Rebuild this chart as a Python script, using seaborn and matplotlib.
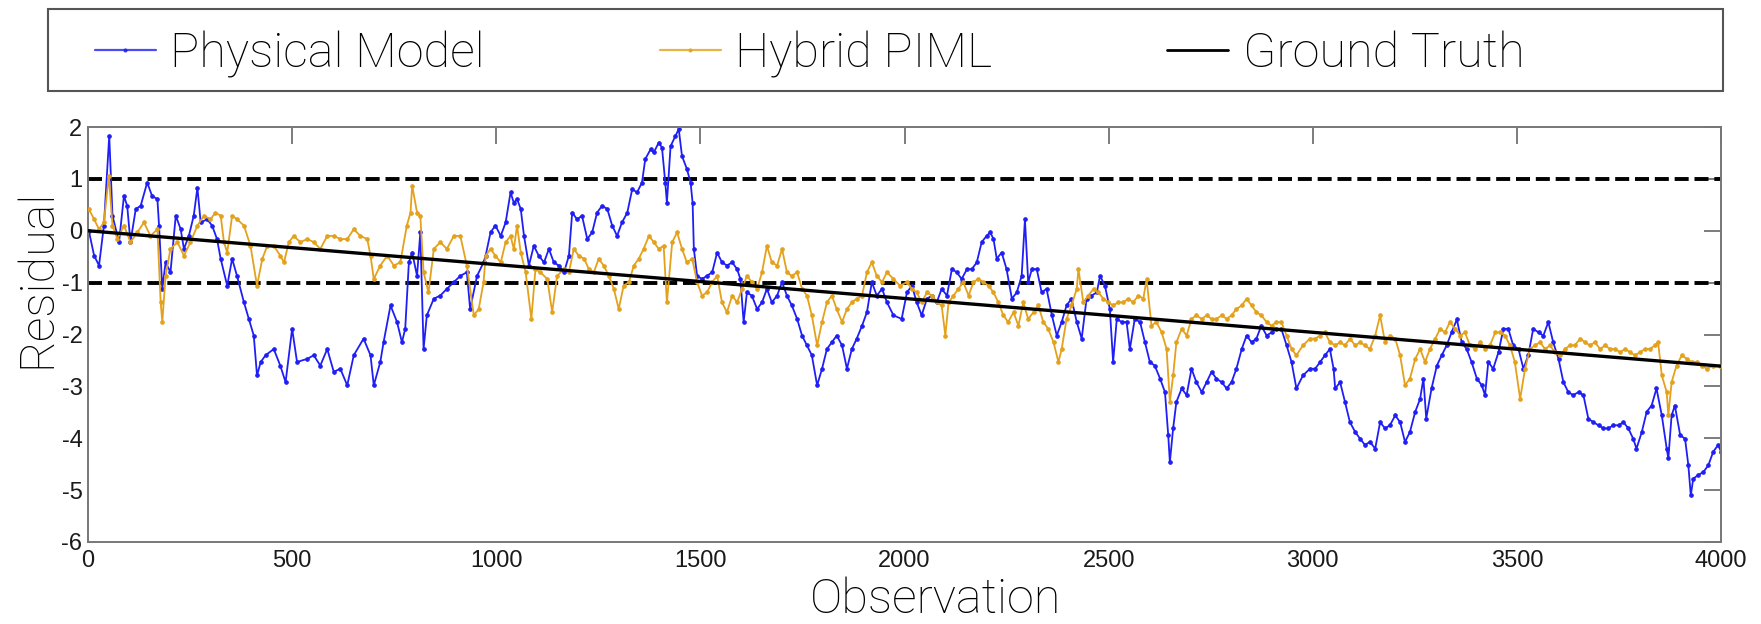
import numpy as np
import pandas as pd
import matplotlib
matplotlib.use("Agg")
import matplotlib.pyplot as plt
import seaborn as sns
from matplotlib.lines import Line2D
from matplotlib.patches import Rectangle

# ---------------- data ----------------
phys_obs = [2, 15, 27, 39, 52, 60, 76, 88, 96, 104, 117, 129, 145, 157, 170, 174, 182, 190, 202, 215,
            227, 235, 247, 259, 268, 276, 292, 304, 316, 325, 341, 353, 365, 382, 394, 406, 414, 423, 435, 455,
            471, 484, 500, 512, 537, 553, 569, 586, 602, 618, 635, 651, 675, 692, 700, 716, 724, 741, 757, 769,
            777, 786, 794, 806, 814, 822, 830, 847, 863, 879, 896, 912, 928, 936, 953, 969,
            974, 986, 998, 1011, 1023, 1035, 1043, 1051, 1060, 1068, 1080, 1092, 1104, 1117, 1129, 1141, 1153, 1166, 1178, 1186,
            1198, 1210, 1223, 1235, 1247, 1259, 1272, 1284, 1296, 1308, 1321, 1333, 1345, 1357, 1365, 1378, 1386, 1398, 1406, 1414,
            1418, 1427, 1439, 1447, 1455, 1467, 1476, 1481, 1484, 1492, 1504, 1516, 1529, 1541, 1553, 1565, 1578, 1590, 1598, 1606,
            1614, 1626, 1639, 1651, 1663, 1675, 1688, 1700, 1712, 1724, 1737, 1749, 1761, 1773, 1786, 1798, 1810, 1822, 1834, 1847,
            1859, 1871, 1883, 1896, 1908, 1920, 1932, 1945, 1957, 1973,
            1993, 2006, 2018, 2030, 2042, 2055, 2067, 2079, 2091, 2104, 2116, 2128, 2140, 2153, 2165, 2177, 2189, 2201, 2210, 2218,
            2226, 2238, 2250, 2263, 2275, 2287, 2295, 2303, 2312, 2324, 2336, 2348, 2361, 2373, 2385, 2397, 2409, 2422, 2434, 2446,
            2458, 2471, 2479, 2491, 2503, 2511, 2520, 2532, 2544, 2552, 2564, 2577, 2589, 2601, 2613, 2626, 2638, 2646, 2650, 2658,
            2666, 2679, 2691, 2703, 2715, 2728, 2740, 2752, 2764, 2777, 2789, 2801, 2813, 2826, 2838, 2850, 2862, 2874, 2887, 2899,
            2911, 2923, 2936, 2948, 2960, 2976, 2993,
            3006, 3018, 3030, 3042, 3051, 3055, 3067, 3079, 3091, 3104, 3116, 3128, 3140, 3153, 3165, 3177, 3189, 3202, 3214, 3226,
            3238, 3251, 3263, 3271, 3278, 3291, 3304, 3316, 3328, 3340, 3353, 3365, 3377, 3389, 3402, 3414, 3422, 3430, 3442, 3455,
            3467, 3479, 3491, 3504, 3516, 3528, 3540, 3553, 3565, 3577, 3589, 3602, 3614, 3626, 3638, 3651, 3663, 3675, 3687, 3700,
            3712, 3724, 3736, 3749, 3761, 3773, 3785, 3793, 3806, 3818, 3830, 3842, 3855, 3867, 3871, 3879, 3887, 3900, 3912, 3920,
            3926, 3932, 3944, 3957, 3969, 3981, 3993, 4000]
phys_val = [0.00, -0.48, -0.67, 0.10, 1.83, 0.29, -0.22, 0.67, 0.48, -0.22, 0.42, 0.48, 0.93, 0.67, 0.61, 0.10, -1.12, -0.61, -0.80, 0.29,
            0.03, -0.35, -0.10, 0.29, 0.83, 0.16, 0.22, 0.10, -0.16, -0.54, -1.06, -0.54, -0.87, -1.38, -1.70, -2.02, -2.79, -2.53, -2.40, -2.28,
            -2.60, -2.92, -1.89, -2.53, -2.47, -2.40, -2.60, -2.28, -2.72, -2.66, -2.98, -2.40, -2.08, -2.40, -2.98, -2.53, -2.15, -1.44, -1.76, -2.15,
            -1.89, -0.61, -0.42, -0.87, -0.03, -2.28, -1.63, -1.31, -1.25, -1.12, -0.99, -0.87, -0.80, -1.51, -0.87, -0.61,
            -0.48, -0.03, 0.10, -0.10, 0.16, 0.74, 0.54, 0.61, 0.42, -0.10, -0.67, -0.29, -0.48, -0.61, -0.35, -0.61, -0.67, -0.80, -0.48, 0.35,
            0.22, 0.29, -0.16, -0.03, 0.35, 0.48, 0.42, 0.10, -0.10, 0.16, 0.35, 0.80, 0.74, 0.93, 1.38, 1.57, 1.51, 1.70, 1.60, 0.93,
            0.54, 1.63, 1.83, 1.96, 1.44, 1.19, 0.93, 0.54, -0.35, -0.87, -0.93, -0.87, -0.80, -0.42, -0.61, -0.67, -0.61, -0.74, -0.93, -1.76,
            -1.19, -1.25, -1.51, -1.38, -1.12, -1.38, -1.25, -0.99, -1.25, -1.44, -1.70, -2.02, -2.21, -2.40, -2.98, -2.66, -2.28, -2.15, -2.02, -2.21,
            -2.66, -2.28, -2.08, -1.83, -1.57, -0.99, -1.25, -1.12, -1.38, -1.63,
            -1.70, -1.19, -1.06, -1.38, -1.63, -1.31, -1.25, -1.38, -1.12, -1.25, -0.74, -0.80, -0.93, -0.74, -0.74, -0.61, -0.22, -0.10, -0.03, -0.16,
            -0.54, -0.42, -0.74, -1.31, -1.19, -0.87, 0.22, -0.99, -0.74, -0.74, -1.19, -1.12, -1.63, -2.02, -1.76, -1.44, -1.31, -1.76, -2.08, -1.31,
            -1.25, -1.19, -0.87, -1.06, -1.51, -2.53, -1.70, -1.76, -1.76, -2.28, -1.70, -1.76, -2.15, -2.53, -2.60, -2.85, -3.11, -3.94, -4.46, -3.81,
            -3.30, -3.04, -3.17, -2.66, -2.92, -3.11, -2.92, -2.72, -2.85, -2.92, -3.04, -2.92, -2.66, -2.28, -2.02, -2.15, -2.08, -1.83, -2.02, -1.96,
            -1.89, -1.89, -2.21, -2.53, -3.04, -2.79, -2.66,
            -2.66, -2.53, -2.40, -2.28, -2.66, -3.04, -2.92, -3.30, -3.69, -3.88, -4.01, -4.13, -4.07, -4.20, -3.69, -3.81, -3.75, -3.56, -3.69, -4.07,
            -3.88, -3.49, -3.24, -2.85, -3.62, -3.04, -2.60, -2.40, -2.21, -1.96, -1.71, -2.15, -2.28, -2.53, -2.85, -2.98, -3.17, -2.53, -2.66, -2.34,
            -1.89, -1.89, -2.21, -2.28, -2.66, -2.40, -1.89, -1.96, -2.02, -1.76, -2.15, -2.47, -2.92, -3.11, -3.17, -3.11, -3.17, -3.62, -3.69, -3.75,
            -3.81, -3.81, -3.75, -3.75, -3.69, -3.81, -4.01, -4.20, -3.88, -3.49, -3.37, -3.04, -3.56, -4.20, -4.39, -3.56, -3.37, -3.94, -4.01, -4.52,
            -5.10, -4.78, -4.71, -4.65, -4.52, -4.26, -4.13, -4.26]

hyb_obs = [2, 15, 27, 39, 51, 60, 72, 88, 104, 121, 137, 153, 170, 178, 182, 190, 202, 219, 235, 251,
           268, 284, 300, 312, 325, 333, 341, 353, 365, 382, 398, 414, 427, 439, 455, 471, 480, 492, 504, 520,
           537, 553, 569, 586, 602, 618, 635, 651, 667, 684, 692, 700, 716, 733, 749, 765, 781, 790, 794, 806,
           814, 822, 834, 847, 863, 879, 896, 912, 928, 945, 957, 969,
           974, 986, 998, 1011, 1023, 1035, 1043, 1051, 1060, 1072, 1086, 1096, 1108, 1125, 1137, 1149, 1166, 1178, 1190, 1202,
           1215, 1227, 1239, 1251, 1263, 1276, 1288, 1300, 1312, 1325, 1337, 1349, 1361, 1374, 1386, 1398, 1410, 1418, 1431, 1443,
           1455, 1467, 1480, 1492, 1504, 1516, 1529, 1541, 1553, 1565, 1578, 1590, 1602, 1614, 1626, 1639, 1651, 1663, 1675, 1688,
           1700, 1712, 1724, 1737, 1749, 1761, 1773, 1786, 1798, 1810, 1822, 1834, 1847, 1859, 1871, 1883, 1896, 1908, 1920, 1932,
           1945, 1957, 1973, 1989,
           2006, 2018, 2030, 2042, 2055, 2067, 2079, 2091, 2100, 2108, 2120, 2132, 2144, 2157, 2169, 2181, 2193, 2206, 2218, 2230,
           2242, 2254, 2267, 2279, 2291, 2303, 2316, 2328, 2340, 2352, 2365, 2377, 2385, 2397, 2409, 2422, 2426, 2438, 2450, 2463,
           2475, 2487, 2499, 2511, 2524, 2536, 2548, 2560, 2573, 2585, 2593, 2605, 2617, 2630, 2642, 2650, 2658, 2666, 2679, 2691,
           2703, 2715, 2728, 2740, 2752, 2764, 2777, 2789, 2801, 2813, 2826, 2838, 2850, 2862, 2874, 2887, 2899, 2911, 2923, 2936,
           2948, 2960, 2976, 2993,
           3006, 3018, 3030, 3042, 3055, 3067, 3079, 3091, 3104, 3116, 3128, 3140, 3153, 3165, 3177, 3189, 3202, 3214, 3226, 3238,
           3251, 3263, 3275, 3287, 3300, 3312, 3324, 3336, 3349, 3361, 3373, 3385, 3398, 3410, 3422, 3434, 3447, 3459, 3471, 3483,
           3495, 3508, 3520, 3532, 3544, 3557, 3569, 3581, 3593, 3606, 3618, 3630, 3642, 3655, 3667, 3679, 3691, 3704, 3716, 3728,
           3740, 3753, 3765, 3777, 3789, 3802, 3814, 3826, 3838, 3846, 3855, 3867, 3871, 3879, 3891, 3904, 3916, 3928, 3940, 3953,
           3965, 3981, 3998]
hyb_val = [0.42, 0.22, 0.03, 0.16, 1.06, 0.10, -0.16, 0.10, -0.22, -0.03, 0.16, -0.10, 0.03, -1.38, -1.76, -0.87, -0.35, -0.22, -0.48, -0.22,
           0.10, 0.29, 0.22, 0.35, 0.29, -0.22, -0.42, 0.29, 0.22, 0.10, -0.29, -1.06, -0.54, -0.29, -0.29, -0.48, -0.61, -0.22, -0.10, -0.22,
           -0.16, -0.22, -0.35, -0.10, -0.10, -0.16, -0.16, 0.03, -0.10, -0.16, -0.48, -0.93, -0.67, -0.48, -0.67, -0.61, 0.10, 0.35, 0.87, 0.35,
           0.29, -0.80, -1.19, -0.35, -0.22, -0.35, -0.10, -0.10, -0.67, -1.63, -1.51, -0.99,
           -0.48, -0.35, -0.48, -0.61, -0.22, -0.10, -0.35, 0.10, -0.42, -0.80, -1.70, -0.74, -0.80, -0.93, -1.57, -0.87, -0.74, -0.80, -0.35, -0.48,
           -0.54, -0.74, -0.80, -0.54, -0.67, -0.87, -1.12, -1.51, -1.06, -0.99, -0.67, -0.54, -0.35, -0.10, -0.22, -0.35, -0.29, -1.38, -0.22, -0.03,
           -0.35, -0.61, -0.54, -0.99, -1.25, -1.19, -0.99, -0.87, -1.38, -1.57, -1.25, -1.38, -1.12, -0.87, -0.99, -1.12, -0.80, -0.29, -0.61, -0.67,
           -0.35, -0.80, -0.87, -0.80, -1.12, -1.25, -1.63, -2.21, -1.76, -1.38, -1.25, -1.51, -1.76, -1.51, -1.38, -1.31, -1.25, -0.80, -0.61, -0.87,
           -0.99, -0.80, -0.93, -1.06,
           -0.99, -1.12, -1.19, -1.38, -1.19, -1.25, -1.38, -1.44, -2.02, -1.38, -1.25, -1.12, -0.99, -1.25, -0.99, -0.93, -0.99, -1.06, -1.19, -1.38,
           -1.63, -1.76, -1.57, -1.83, -1.38, -1.70, -1.57, -1.44, -1.76, -1.89, -2.15, -2.53, -2.28, -1.70, -1.44, -1.12, -0.74, -1.38, -1.25, -1.12,
           -1.19, -1.31, -1.38, -1.44, -1.38, -1.38, -1.31, -1.38, -1.25, -1.31, -0.93, -1.83, -1.76, -1.96, -2.28, -3.30, -2.79, -2.15, -1.89, -2.02,
           -1.70, -1.63, -1.70, -1.63, -1.70, -1.70, -1.63, -1.70, -1.63, -1.51, -1.44, -1.31, -1.44, -1.57, -1.63, -1.76, -1.83, -1.76, -1.76, -2.02,
           -2.28, -2.40, -2.21, -2.08,
           -2.08, -2.02, -1.96, -2.15, -2.21, -2.15, -2.21, -2.08, -2.21, -2.15, -2.21, -2.28, -2.02, -1.63, -2.15, -2.02, -2.08, -2.40, -2.98, -2.85,
           -2.47, -2.28, -2.53, -2.28, -2.08, -1.89, -1.96, -1.76, -1.89, -2.02, -1.96, -2.21, -2.28, -2.15, -2.28, -2.21, -1.96, -1.96, -2.02, -2.21,
           -2.53, -3.24, -2.66, -2.28, -2.21, -2.15, -2.28, -2.21, -2.34, -2.40, -2.28, -2.21, -2.21, -2.08, -2.15, -2.21, -2.15, -2.28, -2.21, -2.28,
           -2.28, -2.34, -2.28, -2.34, -2.40, -2.34, -2.28, -2.28, -2.21, -2.15, -2.79, -3.11, -3.56, -2.92, -2.60, -2.40, -2.47, -2.53, -2.53, -2.60,
           -2.66, -2.60, -2.60]

gt_obs = [0, 4000]
gt_val = [0.0, -2.61]
band_levels = [1.0, -1.0]

x_ticks = [0, 500, 1000, 1500, 2000, 2500, 3000, 3500, 4000]
y_ticks = [2, 1, 0, -1, -2, -3, -4, -5, -6]
series_names = ["Physical Model", "Hybrid PIML", "Ground Truth"]
x_label = "Observation"
y_label = "Residual"

BLUE = "#1f1ff5"
ORANGE = "#e3a11c"

# ---------------- figure ----------------
sns.set_theme(style="white")
plt.rcParams["font.family"] = ["Liberation Sans", "DejaVu Sans"]
plt.rcParams["axes.unicode_minus"] = False

W, H = 1761, 624
fig = plt.figure(figsize=(W / 100, H / 100), dpi=100)
ax = fig.add_axes([88 / W, 1 - 542 / H, (1721 - 88) / W, (542 - 127) / H])

phys_df = pd.DataFrame({"obs": phys_obs, "val": phys_val})
hyb_df = pd.DataFrame({"obs": hyb_obs, "val": hyb_val})
gt_df = pd.DataFrame({"obs": gt_obs, "val": gt_val})

for lvl in band_levels:
    ax.hlines(lvl, 0, 4000, colors="black", linestyles=(0, (3.6, 1.5)), linewidth=2.8, zorder=1)

sns.lineplot(data=hyb_df, x="obs", y="val", ax=ax, color=ORANGE, linewidth=1.3,
             marker=".", markersize=5.5, markeredgecolor=ORANGE, markeredgewidth=0.5,
             estimator=None, sort=False, zorder=3)
sns.lineplot(data=phys_df, x="obs", y="val", ax=ax, color=BLUE, linewidth=1.3,
             marker=".", markersize=5.5, markeredgecolor=BLUE, markeredgewidth=0.5,
             estimator=None, sort=False, zorder=2)
sns.lineplot(data=gt_df, x="obs", y="val", ax=ax, color="black", linewidth=2.4,
             estimator=None, sort=False, zorder=4)

ax.set_xlim(0, 4000)
ax.set_ylim(-6, 2)
ax.set_xticks(x_ticks)
ax.set_yticks(y_ticks)
ax.tick_params(axis="both", which="major", direction="in", length=12, width=1.2,
               color="#666666", labelsize=17, labelcolor="#1a1a1a",
               top=True, right=True, pad=4)
ax.tick_params(axis="x", pad=6)
for s in ax.spines.values():
    s.set_color("#777777")
    s.set_linewidth(1.4)

label_font = dict(fontsize=35, family=["Roboto", "DejaVu Sans"], fontweight="light", color="black")
ax.set_xlabel(x_label, va="baseline", ha="center", **label_font)
ax.set_ylabel(y_label, va="baseline", ha="center", **label_font)
ax.xaxis.set_label_coords(0.519, (542 - 613) / 415)
ax.yaxis.set_label_coords((50 - 88) / 1633, (542 - 278) / 415)

# legend box
fig.patches.append(Rectangle((48 / W, 1 - 91 / H), (1723 - 48) / W, (91 - 9) / H,
                             transform=fig.transFigure, fill=False,
                             edgecolor="#555555", linewidth=1.5))
handles = [
    Line2D([], [], color=BLUE, linewidth=1.6, marker=".", markersize=4, alpha=0.8),
    Line2D([], [], color=ORANGE, linewidth=1.6, marker=".", markersize=4, alpha=0.8),
    Line2D([], [], color="black", linewidth=2.0),
]
leg = fig.legend(handles, series_names, loc="center left",
                 bbox_to_anchor=(95 / W, 1 - 54 / H), ncol=3, frameon=False,
                 prop={"family": ["Roboto", "DejaVu Sans"], "weight": "light", "size": 35},
                 handlelength=1.25, handletextpad=0.3, columnspacing=3.6,
                 borderpad=0, borderaxespad=0, labelcolor="black")

fig.savefig("out.png", dpi=100, facecolor="white")
